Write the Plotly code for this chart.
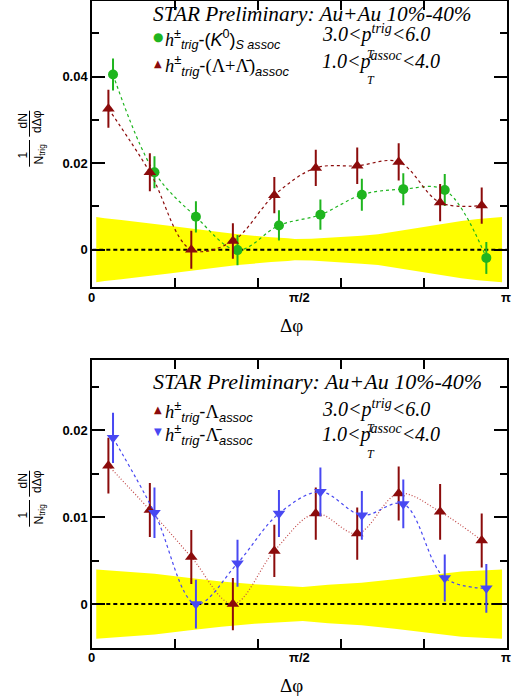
import plotly.graph_objects as go

W, H = 519, 700
PI = 3.141592653589793

# ---------------- data ----------------
# delta-phi bin centres (rad)
dphi = [0.157, 0.471, 0.785, 1.100, 1.414, 1.728, 2.042, 2.356, 2.670, 2.985]

# top panel: h-K0S and h-(Lambda+antiLambda)
k0s_y = [0.0405, 0.0179, 0.0076, -0.0001, 0.0056, 0.0081, 0.0127, 0.0140, 0.0138, -0.0019]
k0s_err = [0.0037, 0.0037, 0.0036, 0.0035, 0.0035, 0.0035, 0.0037, 0.0037, 0.0037, 0.0037]
lsum_y = [0.0326, 0.0179, 0.0000, 0.0020, 0.0126, 0.0189, 0.0194, 0.0203, 0.0109, 0.0102]
lsum_err = [0.0044, 0.0044, 0.0044, 0.0041, 0.0042, 0.0042, 0.0042, 0.0043, 0.0043, 0.0042]

# bottom panel: h-Lambda and h-antiLambda
lam_y = [0.0159, 0.0108, 0.0054, 0.0000, 0.0061, 0.0104, 0.0081, 0.0127, 0.0106, 0.0073]
lam_err = [0.0032, 0.0031, 0.0031, 0.0030, 0.0030, 0.0030, 0.0030, 0.0031, 0.0032, 0.0031]
alam_y = [0.0191, 0.0105, 0.0000, 0.0047, 0.0104, 0.0129, 0.0102, 0.0115, 0.0030, 0.0018]
alam_err = [0.0029, 0.0029, 0.0028, 0.0027, 0.0027, 0.0028, 0.0028, 0.0028, 0.0027, 0.0028]

# systematic bands: half widths
band1_x = [0.030, 0.094, 0.220, 0.346, 0.472, 0.598, 0.724, 0.851, 0.977, 1.103, 1.229, 1.355,
           1.481, 1.534, 1.660, 1.787, 1.913, 2.039, 2.165, 2.291, 2.418, 2.544, 2.670, 2.796,
           2.922, 3.048, 3.104]
band1_w = [0.00755, 0.00724, 0.00686, 0.00647, 0.00593, 0.00547, 0.00493, 0.00447, 0.00401,
           0.00355, 0.00316, 0.00285, 0.00262, 0.00247, 0.00250, 0.00270, 0.00293, 0.00324,
           0.00355, 0.00416, 0.00478, 0.00555, 0.00609, 0.00663, 0.00709, 0.00748, 0.00755]
band2_x = [0.030, 0.220, 0.472, 0.724, 0.977, 1.229, 1.481, 1.594, 1.787, 2.039, 2.291, 2.544,
           2.796, 3.104]
band2_w = [0.00398, 0.00379, 0.00349, 0.00303, 0.00260, 0.00226, 0.00207, 0.00195, 0.00222,
           0.00245, 0.00284, 0.00333, 0.00375, 0.00398]

x_labels = ["0", "π/2", "π"]
x_ticks = [PI / 5, 2 * PI / 5, 3 * PI / 5, 4 * PI / 5]
y1_ticks = [0, 0.02, 0.04]
y1_ticktext = ["0", "0.02", "0.04"]
y1_minor = [0.01, 0.03, 0.05]
y2_ticks = [0, 0.01, 0.02]
y2_ticktext = ["0", "0.01", "0.02"]
y2_minor = [0.005, 0.015, 0.025]

# ---------------- styles ----------------
GREEN = "#1fb51f"
DRED = "#8b0b0b"
LRED = "#c24a4a"
BLUE = "#4848f2"
YELLOW = "#ffff00"
SHIFT = 0.035  # horizontal display offset of the triangles

fig = go.Figure()


def add_band(bx, bw, xa, ya):
    fig.add_trace(go.Scatter(x=bx, y=bw, mode="lines", line=dict(width=0, color=YELLOW),
                             xaxis=xa, yaxis=ya, showlegend=False, hoverinfo="skip"))
    fig.add_trace(go.Scatter(x=bx, y=[-v for v in bw], mode="lines", fill="tonexty",
                             fillcolor=YELLOW, line=dict(width=0, color=YELLOW),
                             xaxis=xa, yaxis=ya, showlegend=False, hoverinfo="skip"))
    fig.add_trace(go.Scatter(x=[0, PI], y=[0, 0], mode="lines",
                             line=dict(color="black", width=2, dash="4px,3px"),
                             xaxis=xa, yaxis=ya, showlegend=False, hoverinfo="skip"))


def add_series(x, y, err, color, linecolor, dash, symbol, size, xa, ya, lw=1.2):
    fig.add_trace(go.Scatter(x=x, y=y, mode="lines",
                             line=dict(color=linecolor, width=lw, dash=dash,
                                       shape="spline", smoothing=1.0),
                             xaxis=xa, yaxis=ya, showlegend=False, hoverinfo="skip"))
    fig.add_trace(go.Scatter(x=x, y=y, mode="markers",
                             marker=dict(symbol=symbol, size=size, color=color, line=dict(width=0)),
                             error_y=dict(type="data", array=err, color=color, thickness=2, width=0),
                             xaxis=xa, yaxis=ya, showlegend=False))


# top panel
add_band(band1_x, band1_w, "x", "y")
add_series(dphi, k0s_y, k0s_err, GREEN, GREEN, "3px,3px", "circle", 10, "x", "y")
add_series([v - SHIFT for v in dphi], lsum_y, lsum_err, DRED, DRED, "3px,3px",
           "triangle-up", 11, "x", "y")

# bottom panel
add_band(band2_x, band2_w, "x2", "y2")
add_series([v - SHIFT for v in dphi], lam_y, lam_err, DRED, LRED, "1px,2px",
           "triangle-up", 11, "x2", "y2")
add_series(dphi, alam_y, alam_err, BLUE, BLUE, "3px,3px", "triangle-down", 11, "x2", "y2")

# empty traces so that the minor-tick overlay axes get drawn
fig.add_trace(go.Scatter(x=[None], y=[None], xaxis="x", yaxis="y3", showlegend=False))
fig.add_trace(go.Scatter(x=[None], y=[None], xaxis="x2", yaxis="y4", showlegend=False))

X0, X1 = 92.3 / W, 507 / W
TOP1, BOT1 = 1 - 1 / H, 1 - 287 / H
TOP2, BOT2 = 1 - 360 / H, 1 - 647.7 / H
R1 = [-0.00863, 0.0575]
R2 = [-0.00502, 0.02805]

tickfont = dict(family="Liberation Sans", size=13, color="black", weight="bold")


def xaxis_cfg(anchor):
    return dict(domain=[X0, X1], anchor=anchor, range=[0, PI], showline=True, linewidth=2,
                linecolor="black", mirror="ticks", tickmode="array", tickvals=x_ticks,
                showticklabels=False, ticks="inside", ticklen=9, tickwidth=2, tickcolor="black",
                showgrid=False, zeroline=False, automargin=False)


def yaxis_cfg(anchor, dom, rng, tv, tt):
    return dict(domain=dom, anchor=anchor, range=rng, showline=True, linewidth=2,
                linecolor="black", mirror="ticks", tickmode="array", tickvals=tv, ticktext=tt,
                ticks="inside", ticklen=13, tickwidth=2, tickcolor="black", tickfont=tickfont,
                showgrid=False, zeroline=False, automargin=False)


def yminor_cfg(anchor, over, rng, tv):
    return dict(overlaying=over, anchor=anchor, range=rng, showline=False, mirror="ticks",
                tickmode="array", tickvals=tv, showticklabels=False, ticks="inside", ticklen=7,
                tickwidth=2, tickcolor="black", showgrid=False, zeroline=False, automargin=False)


fig.update_layout(
    template="none",
    width=W, height=H, margin=dict(l=0, r=0, t=0, b=0, pad=0, autoexpand=False),
    paper_bgcolor="white", plot_bgcolor="white", showlegend=False,
    xaxis=xaxis_cfg("y"), xaxis2=xaxis_cfg("y2"),
    yaxis=yaxis_cfg("x", [BOT1, TOP1], R1, y1_ticks, y1_ticktext),
    yaxis2=yaxis_cfg("x2", [BOT2, TOP2], R2, y2_ticks, y2_ticktext),
    yaxis3=yminor_cfg("x", "y", R1, y1_minor),
    yaxis4=yminor_cfg("x2", "y2", R2, y2_minor),
)

anns = []
shapes = []


def ann(text, x, y, size, family="Liberation Serif", xanchor="left", yanchor="middle",
        angle=0, color="black", weight="normal"):
    anns.append(dict(text=text, x=x / W, y=1 - y / H, xref="paper", yref="paper",
                     xanchor=xanchor, yanchor=yanchor, textangle=angle, showarrow=False,
                     borderpad=0, borderwidth=0,
                     font=dict(family=family, size=size, color=color, weight=weight)))


SANS = "Liberation Sans"
SERIF = "Liberation Serif"
HS = '<span style="font-family:Liberation Serif"><i>h</i></span>'

for off in (0, 360):
    # y-axis title: 1/N_trig dN/d(delta phi)
    ann("dN", 22, 121.5 + off, 12, SANS, "center", "middle", -90)
    ann("dΔφ", 37, 122 + off, 12, SANS, "center", "middle", -90)
    ann("1", 22, 155.5 + off, 12, SANS, "center", "middle", -90)
    ann("N<sub>trig</sub>", 39.5, 154 + off, 12, SANS, "center", "middle", -90)
    for (ya, yb) in ((110.7, 136.7), (140, 166.7)):
        shapes.append(dict(type="line", xref="paper", yref="paper", x0=29.5 / W, x1=29.5 / W,
                           y0=1 - (ya + off) / H, y1=1 - (yb + off) / H,
                           line=dict(color="black", width=1)))
    # x tick labels
    for lab, xp in zip(x_labels, (91, 299, 505.5)):
        ann(lab, xp, 297 + off, 13, SANS, "center", "middle", weight="bold")
    # x-axis title
    ann("Δφ", 291, 325 + off, 19, SERIF, "center", "middle")

# top legend
ann("<i>STAR Preliminary: Au+Au 10%-40%</i>", 153, 14, 21.3, SERIF)
ann("●", 158.3, 36.7, 12, "DejaVu Sans", "center", "middle", color=GREEN)
ann("▲", 158.3, 63.3, 10, "DejaVu Sans", "center", "middle", color=DRED)
ann(HS + "<sup>±</sup><sub><i>trig</i></sub>-(<i>K</i><sup>0</sup>)<sub><i>S assoc</i></sub>",
    165, 39, 18, SANS)
ann(HS + "<sup>±</sup><sub><i>trig</i></sub>-"
    '<span style="font-family:Liberation Serif">(Λ+Λ̄)</span><sub><i>assoc</i></sub>',
    165, 65, 18.5, SANS)


def pt_label(lo, hi, sup, y):
    ann("<i>%s&lt;p<sup>%s</sup>&lt;%s</i>" % (lo, sup, hi), 322, y - 4, 20, SERIF)
    ann("<i>T</i>", 367, y + 16, 12, SERIF)


pt_label("3.0", "6.0", "trig", 37.8)
pt_label("1.0", "4.0", "assoc", 64.2)

# bottom legend
ann("<i>STAR Preliminary: Au+Au 10%-40%</i>", 153, 381, 22, SERIF)
ann("▲", 158.3, 409.3, 10, "DejaVu Sans", "center", "middle", color=DRED)
ann("▼", 158.3, 431.7, 10, "DejaVu Sans", "center", "middle", color=BLUE)
ann(HS + "<sup>±</sup><sub><i>trig</i></sub>-"
    '<span style="font-family:Liberation Serif">Λ</span><sub><i>assoc</i></sub>',
    165, 411, 18.5, SANS)
ann(HS + "<sup>±</sup><sub><i>trig</i></sub>-"
    '<span style="font-family:Liberation Serif">Λ̄</span><sub><i>assoc</i></sub>',
    165, 434, 18.5, SANS)
pt_label("3.0", "6.0", "trig", 412.5)
pt_label("1.0", "4.0", "assoc", 437.5)

fig.update_layout(annotations=anns, shapes=shapes)
# remove the browser's default 8px page margin so the figure sits at (0, 0)
fig.write_html("out.html", config={"staticPlot": True, "displayModeBar": False},
               post_script="document.body.style.margin='0';")
